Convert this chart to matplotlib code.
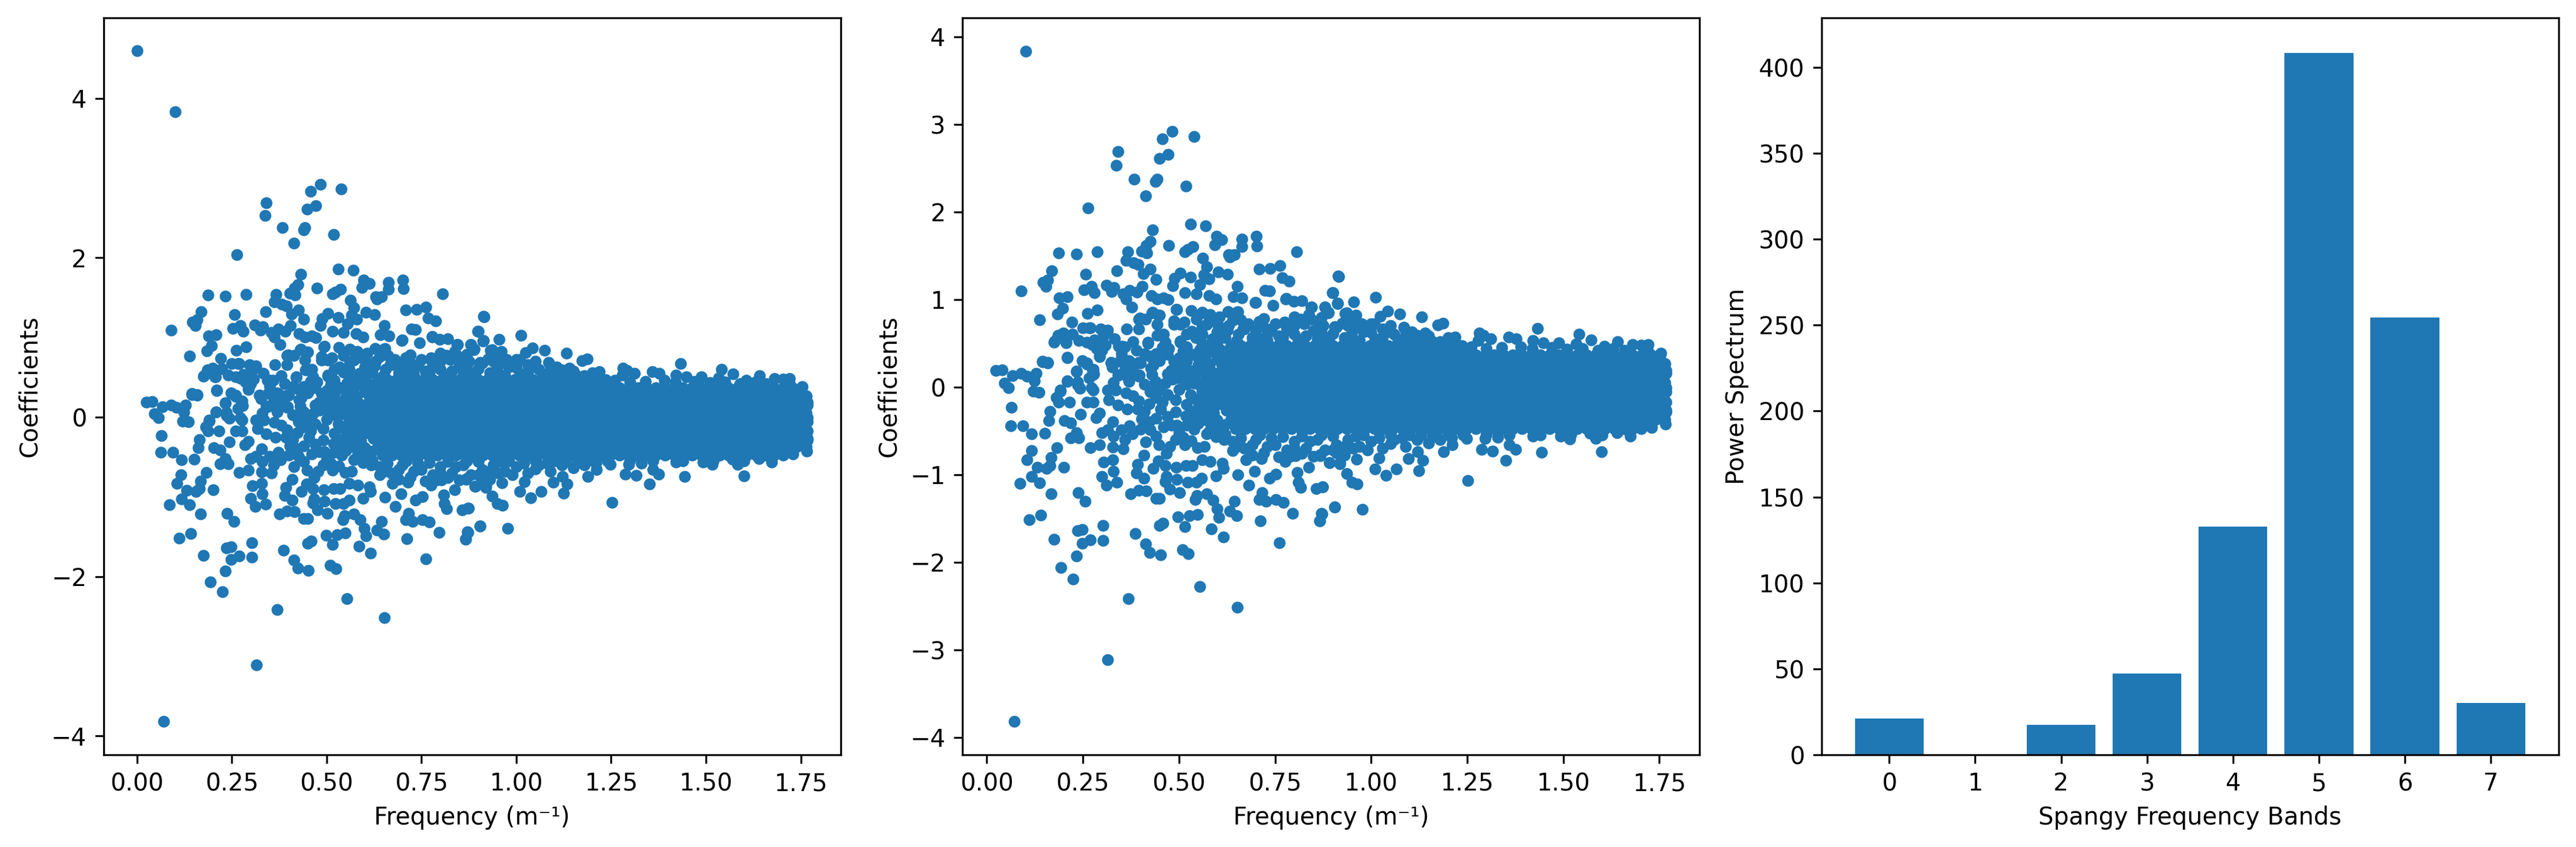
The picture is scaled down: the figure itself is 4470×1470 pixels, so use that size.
import matplotlib
matplotlib.use('Agg')
import matplotlib.pyplot as plt

# 첫번째 점 (주파수 0), 왼쪽 그래프에만 있음
dc_point = (0.0, 4.596)

# (frequency, coefficient) 값들, 그림에서 읽음
upper_far = [(.101,3.83),(.483,2.918),(.457,2.832),(.539,2.861),(.341,2.69),(.337,2.529),(.472,2.652),(.449,2.609),
    (.443,2.375),(.439,2.346),(.384,2.375),(.518,2.29),(.413,2.18),(.263,2.04),(.530,1.858),(.570,1.84),(.432,1.79),
    (.598,1.718),(.612,1.678),(.593,1.623),(.663,1.69),(.663,1.604),(.701,1.718),(.703,1.612),(.425,1.66),(.415,1.618),
    (.474,1.618),(.187,1.532),(.233,1.517),(.288,1.543),(.367,1.543),(.403,1.552),(.416,1.532),(.515,1.546),(.523,1.569),
    (.537,1.603),(.806,1.546),(.562,1.469),(.630,1.512),(.644,1.512),(.633,1.483),(.362,1.446),(.382,1.417),(.394,1.397)]

upper_mid = [(.169,1.323),(.257,1.289),(.339,1.323),(.426,1.346),(.408,1.295),(.44,1.226),(.572,1.374),(.565,1.283),
    (.579,1.232),(.603,1.312),(.627,1.289),(.708,1.346),(.737,1.355),(.762,1.383),(.768,1.246),(.787,1.209),(.915,1.26),
    (.504,1.303),(.488,1.238),(.530,1.252),(.158,1.218),(.146,1.192),(.154,1.146),(.09,1.094),(.272,1.146),(.253,1.112),
    (.280,1.075),(.311,1.16),(.331,1.132),(.325,1.089),(.355,1.06),(.372,1.103),(.391,1.08),(.404,1.146),(.484,1.152),
    (.516,1.075),(.555,1.169),(.545,1.06),(.652,1.146),(.723,1.103),(.735,1.097),(.9,1.075),(.209,1.032),(.189,1.017),
    (.362,1.003),(.428,1.046),(.443,1.003),(.46,1.017),(.472,.997),(.578,1.046),(.596,1.003),(.642,1.032),(.664,1.017),
    (.779,1.009),(.798,.975),(.82,.983),(.844,.912),(.88,.912),(.913,.96),(.7,.966),(.197,.897),(.184,.832),(.288,.88),
    (.262,.84),(.377,.909),(.493,.883),(.745,.932),(.628,.86),(.138,.766),(.221,.74),(.364,.66),(.396,.774),(.43,.846),
    (.45,.817),(.532,.874),(.562,.846),(.654,.86)]

upper_near = [(.25,.674),(.267,.674),(.301,.646),(.314,.646),(.199,.617),(.443,.717),(.487,.717),(.572,.717),(.627,.646),
    (.667,.66),(.728,.66),(.776,.717),(.817,.774),(.864,.717),(.905,.688),(.844,.774),(.708,.746),(.606,.803),(.579,.746),
    (.545,.774),(.504,.717),(.94,.7),(.97,.68),(1.0,.72),(1.05,.7),(1.1,.6),(.27,.673),(.199,.604),(.186,.59),(.223,.604),
    (.177,.521),(.207,.507),(.24,.529),(.26,.507),(.296,.659),(.313,.632),(.303,.576),(.28,.535),(.308,.479),(.286,.438),
    (.293,.349),(.333,.548),(.343,.465),(.359,.46),(.395,.659),(.42,.507),(.444,.59),(.464,.507),(.504,.526),(.534,.632),
    (.544,.562),(.587,.548),(.594,.396),(.624,.396),(.21,.34),(.145,.294),(.159,.28),(.248,.3),(.26,.258),(.276,.189),
    (.233,.183),(.279,.147),(.266,.105),(.323,.272),(.327,.23),(.347,.3),(.37,.3),(.4,.272),(.424,.355),(.44,.382),
    (.474,.438),(.511,.41),(.554,.424),(.537,.369),(.564,.3),(.533,.18),(.427,.216),(.48,.189),(.494,.23),(.484,.092),
    (.439,.064),(.343,.133),(.37,.064),(.397,.133),(.33,.05),(.209,.064),(.236,.022),(.272,-.011),(.191,-.033),(.426,-.047),
    (.551,.036),(.567,.161),(.399,.784),(.414,.776),(.432,.853),(.447,.82),(.487,.756),(.494,.886),(.561,.853),(.581,.825),
    (.628,.859),(.651,.853),(.698,.964),(.778,1.005),(.845,.914),(.889,.853),(.932,.84),(.815,.77),(.838,.825),(.775,.742),
    (.715,.742),(.661,.77),(.601,.715),(.561,.687),(.514,.742)]

upper_band = [(.6,.63),(.63,.7),(.655,.6),(.68,.72),(.7,.64),(.73,.6),(.75,.72),(.78,.65),(.8,.6),(.825,.72),(.85,.64),(.875,.7),
    (.9,.61),(.925,.73),(.95,.63),(.975,.72),(1.0,.62),(1.03,.66),(1.06,.6),(1.09,.64),(1.12,.59),(1.15,.58),(1.2,.56),(.64,.76),
    (.72,.78),(.8,.8),(.87,.79),(.95,.76),(.69,.56),(.77,.56),(.86,.55),(.93,.56),(1.01,.55),(1.08,.54),(1.16,.52),(1.22,.5),
    (.62,.56),(.67,.66),(.71,.55),(.74,.66),(.76,.58),(.8,.7),(.83,.58),(.87,.62),(.89,.54),(.91,.68),(.95,.55),(.98,.63),(1.03,.57),
    (1.05,.63),(1.07,.53),(1.11,.56),(1.13,.51),(1.18,.52),(.65,.53),(.73,.53),(.81,.53),(.97,.53),(1.26,.46),(1.3,.44),(1.34,.45),
    (1.39,.46),(1.42,.44),(1.47,.45),(1.51,.43),(1.55,.44),(1.59,.42),(1.63,.44),(1.66,.42),(1.72,.42)]

right_top = [(.914,1.264),(.899,1.076),(.912,.951),(.954,.973),(1.012,1.026),(.88,.912),(.888,.849),(.936,.849),(.96,.821),
    (1.043,.868),(1.075,.835),(1.024,.807),(1.132,.802),(1.187,.73),(1.174,.705),(1.009,.724),(1.085,.683),(1.106,.627),
    (1.14,.614),(1.219,.572),(1.281,.614),(1.292,.586),(1.311,.55),(1.279,.531),(1.358,.572),(1.377,.55),(1.433,.669),
    (1.421,.531),(1.448,.503),(1.488,.503),(1.541,.6),(1.572,.539),(1.533,.489),(1.642,.517),(1.607,.461),(1.681,.483),
    (1.703,.475),(1.721,.483),(1.754,.384),(1.764,.268),(1.768,.185),(1.768,-.009),(1.768,-.175),(1.768,-.286),(1.766,-.424)]

right_bottom = [(1.730,-.465),(1.703,-.479),(1.674,-.562),(1.601,-.549),(1.584,-.59),(1.6,-.737),(1.517,-.596),(1.493,-.562),
    (1.444,-.748),(1.421,-.562),(1.376,-.715),(1.351,-.839),(1.36,-.659),(1.316,-.734),(1.287,-.715),(1.33,-.576),(1.296,-.59),
    (1.248,-.59),(1.252,-1.069),(1.211,-.659),(1.189,-.742),(1.124,-.955),(1.134,-.839),(1.121,-.742),(1.097,-.817),
    (1.065,-.936),(1.038,-1.01),(1.01,-.936),(1.021,-.811),(.977,-1.398),(.905,-1.37),(.871,-1.442),(.866,-1.531),
    (.873,-1.143),(.963,-1.108),(.95,-1.088),(.937,-.991),(.919,-.88),(.892,-.867),(.962,-.825),(.953,-.701),(.909,-.756),(.868,-.784),
    (1.3,-.54),(1.36,-.55),(1.44,-.55),(1.52,-.54),(1.57,-.53),(1.64,-.52),(1.67,-.5)]

lower_band = [(.64,-.62),(.67,-.7),(.7,-.6),(.72,-.75),(.75,-.66),(.78,-.72),(.8,-.62),(.83,-.7),(.86,-.6),(.88,-.72),(.91,-.66),(.94,-.6),
    (.97,-.68),(1.0,-.62),(1.03,-.7),(1.06,-.6),(1.09,-.68),(1.12,-.6),(1.15,-.64),(1.18,-.6),(1.21,-.58),(.66,-.58),(.74,-.58),(.82,-.56),
    (.9,-.56),(.98,-.55),(1.05,-.55),(1.13,-.55),(1.24,-.55),(.69,-.78),(.76,-.8),(.85,-.79),
    (.62,-.54),(.65,-.68),(.69,-.66),(.71,-.55),(.73,-.68),(.77,-.57),(.8,-.7),(.84,-.62),(.87,-.55),(.9,-.72),(.93,-.68),(.96,-.56),
    (.99,-.72),(1.02,-.58),(1.05,-.65),(1.08,-.58),(1.1,-.55),(1.16,-.57),(1.2,-.54),(.79,-.79),(.93,-.78),(.82,-.76)]

lower_left = [(.024,.19),(.04,.193),(.067,.13),(.09,.152),(.104,.121),(.128,.152),(.124,.068),(.046,.043),(.056,-.011),
    (.121,-.052),(.136,-.061),(.064,-.233),(.062,-.443),(.094,-.443),(.117,-.538),(.151,-.528),(.145,.284),(.158,.271),
    (.21,.331),(.175,.513),(.206,.503),(.25,.293),(.26,.271),(.233,.174),(.277,.2),(.277,.143),(.209,.068),(.236,.058),
    (.243,-.014),(.277,-.036),(.191,-.052),(.181,-.12),(.187,-.177),(.216,-.177),(.26,-.177),(.277,-.177),(.165,-.28),
    (.162,-.384),(.202,-.384),(.219,-.412),(.244,-.309),(.294,-.302),(.284,-.349),(.233,-.522),(.219,-.585),(.24,-.585),
    (.183,-.694),(.116,-.726),(.168,-.804),(.105,-.835),(.164,-.898),(.131,-.92),(.156,-.93),(.201,-.914),(.117,-1.024),
    (.138,-1.096),(.086,-1.102),(.168,-1.218),(.238,-1.209),(.256,-1.306),(.141,-1.463),(.111,-1.516),(.175,-1.739),
    (.236,-1.641),(.248,-1.626),(.302,-1.579),(.27,-1.745),(.248,-1.783),(.303,-1.754),(.233,-1.933),(.193,-2.065),
    (.225,-2.193),(.369,-2.416),(.554,-2.281),(.652,-2.519),(.315,-3.112),(.071,-3.821)]

lower_mid = [(.386,-1.673),(.413,-1.792),(.424,-1.892),(.452,-1.92),(.45,-1.582),(.459,-1.557),(.51,-1.855),(.525,-1.905),
    (.516,-1.597),(.498,-1.485),(.527,-1.472),(.549,-1.456),(.604,-1.488),(.599,-1.394),(.585,-1.623),(.616,-1.71),(.632,-1.416),
    (.65,-1.469),(.645,-1.306),(.712,-1.528),(.761,-1.776),(.796,-1.444),(.866,-1.528),(.872,-1.447),(.905,-1.368),(.857,-1.162),
    (.874,-1.143),(.817,-1.149),(.81,-1.086),(.808,-.977),(.837,-.914),(.771,-1.318),(.752,-1.284),(.727,-1.306),(.708,-1.287),
    (.716,-1.205),(.681,-1.124),(.654,-1.002),(.696,-.961),(.735,-1.039),(.752,-.999),(.589,-1.29),(.572,-1.218),(.547,-1.237),
    (.543,-1.284),(.45,-1.274),(.44,-1.274),(.415,-1.187),(.396,-1.18),(.375,-1.218),(.339,-1.09),(.312,-1.121),(.299,-1.021),
    (.33,-.961),(.304,-.861),(.328,-.835),(.27,-.694),(.293,-.663),(.328,-.685),(.355,-.704),(.299,-.522),(.314,-.491),(.35,-.491),
    (.379,-.538),(.413,-.625),(.409,-.779),(.392,-.883),(.389,-.983),(.409,-1.039),(.433,-.93),(.447,-.842),(.464,-.898),
    (.467,-1.024),(.464,-1.08),(.476,-1.165),(.502,-1.205),(.494,-1.055),(.523,-1.086),(.545,-1.086),(.559,-1.039),(.493,-.914),
    (.518,-.898),(.535,-.898),(.56,-.835),(.582,-.851),(.596,-1.017),(.616,-.93),(.613,-.873),(.467,-.757),(.477,-.679),(.491,-.6),
    (.511,-.578),(.532,-.616),(.515,-.663),(.549,-.694),(.566,-.679),(.448,-.663),(.481,-.437),(.494,-.437),(.596,-.569),(.618,-.6),
    (.572,-.538),(.64,-.726),(.674,-.835),(.715,-.82),(.776,-.851),(.803,-.788),(.868,-.773),(.891,-.867),(.919,-.867)]

inner_left = [(.348,.293),(.372,.293),(.324,.278),(.396,.278),(.433,.246),(.341,.137),(.369,.09),(.396,.121),(.439,.058),(.464,.043),
    (.481,.09),(.426,-.058),(.396,-.161),(.362,-.067),(.335,-.036),(.314,-.036),(.318,-.146),(.341,-.208),(.365,-.255),(.392,-.255),
    (.423,-.193),(.457,-.177),(.453,-.255),(.491,-.146),(.491,-.287),(.403,-.365),(.423,-.396),(.426,-.491),(.372,-.443),(.328,-.396),
    (.487,.293),(.511,.388),(.457,.45),(.42,.497),(.532,.184),(.552,.027),(.545,-.302),(.579,-.396),(.518,-.334),(.535,-.365),
    (.559,-.177),(.504,.513),(.294,.356),(.274,.482),(.352,.466),(.287,.497),
    (.36,.2),(.41,.38),(.45,.3),(.47,.15),(.5,.33),(.52,.46),(.39,.42),(.35,.38),(.3,.42),(.38,.52),(.46,.6),(.52,.6),(.56,.5),
    (.38,-.1),(.44,-.12),(.47,-.34),(.44,-.36),(.5,-.52),(.54,-.48),(.36,-.6),(.33,-.56),(.44,-.56),(.4,-.48),
    (.5,.1),(.52,.03),(.54,.12),(.56,.2),(.58,.26),(.5,-.03),(.53,-.09),(.56,-.05),(.58,.07),(.59,-.12),(.52,-.2),(.55,-.24),(.58,-.22),
    (.59,.16),(.57,.36),(.52,.29),(.55,.33),(.59,.44),(.55,-.42),(.59,-.3),(.6,-.45),(.58,-.5),(.6,.5),(.47,.37),(.43,.14),(.41,.03),
    (.45,-.03),(.47,-.09),(.41,-.28),(.46,-.46),(.52,-.44),(.38,.19),
    (.57,.12),(.55,.25),(.6,.32),(.575,.44),(.54,.04),(.575,-.02),(.545,-.14),(.575,-.14),(.57,-.3),(.6,-.38),(.565,-.37),(.53,-.28),
    (.51,.2),(.52,.12),(.59,.03),(.6,-.2),(.61,-.55),(.6,.6),(.56,.6),(.62,-.43),(.61,.42)]

# 가운데 빽빽한 부분, 줄마다 계수값 하나
core_y = [.47, .365, .26, .155, .05, -.055, -.16, -.265, -.37, -.475]
core_x_0 = [.636,.66,.684,.708,.732,.756,.78,.804,.828,.852,.876,.9,.924,.948,.972,.996,1.02,1.044,1.068,1.092,1.116,1.14,1.164,1.188,1.212,1.236]
core_x_1 = [.6,.624,.648,.672,.696,.72,.744,.768,.792,.816,.84,.864,.888,.912,.936,.96,.984,1.008,1.032,1.056,1.08,1.104,1.128,1.152,1.176,1.2,1.224,1.248,1.272,1.296,1.32,1.344,1.368,1.392,1.416,1.44,1.464,1.488,1.512,1.536,1.56,1.584,1.608,1.632,1.656,1.68,1.704,1.728,1.752]
core_x_2 = [.612,.636,.66,.684,.708,.732,.756,.78,.804,.828,.852,.876,.9,.924,.948,.972,.996,1.02,1.044,1.068,1.092,1.116,1.14,1.164,1.188,1.212,1.236,1.26,1.284,1.308,1.332,1.356,1.38,1.404,1.428,1.452,1.476,1.5,1.524,1.548,1.572,1.596,1.62,1.644,1.668,1.692,1.716,1.74,1.764]
core_x_3 = [.6,.624,.648,.672,.696,.72,.744,.768,.792,.816,.84,.864,.888,.912,.936,.96,.984,1.008,1.032,1.056,1.08,1.104,1.128,1.152,1.176,1.2,1.224,1.248,1.272,1.296,1.32,1.344,1.368,1.392,1.416,1.44,1.464,1.488,1.512,1.536,1.56,1.584,1.608,1.632,1.656,1.68,1.704,1.728,1.752,1.767]
core_x_4 = [.588,.612,.636,.66,.684,.708,.732,.756,.78,.804,.828,.852,.876,.9,.924,.948,.972,.996,1.02,1.044,1.068,1.092,1.116,1.14,1.164,1.188,1.212,1.236,1.26,1.284,1.308,1.332,1.356,1.38,1.404,1.428,1.452,1.476,1.5,1.524,1.548,1.572,1.596,1.62,1.644,1.668,1.692,1.716,1.74,1.764]
core_x_5 = [.6,.624,.648,.672,.696,.72,.744,.768,.792,.816,.84,.864,.888,.912,.936,.96,.984,1.008,1.032,1.056,1.08,1.104,1.128,1.152,1.176,1.2,1.224,1.248,1.272,1.296,1.32,1.344,1.368,1.392,1.416,1.44,1.464,1.488,1.512,1.536,1.56,1.584,1.608,1.632,1.656,1.68,1.704,1.728,1.752,1.767]
core_x_6 = [.612,.636,.66,.684,.708,.732,.756,.78,.804,.828,.852,.876,.9,.924,.948,.972,.996,1.02,1.044,1.068,1.092,1.116,1.14,1.164,1.188,1.212,1.236,1.26,1.284,1.308,1.332,1.356,1.38,1.404,1.428,1.452,1.476,1.5,1.524,1.548,1.572,1.596,1.62,1.644,1.668,1.692,1.716,1.74,1.764]
core_x_7 = [.624,.648,.672,.696,.72,.744,.768,.792,.816,.84,.864,.888,.912,.936,.96,.984,1.008,1.032,1.056,1.08,1.104,1.128,1.152,1.176,1.2,1.224,1.248,1.272,1.296,1.32,1.344,1.368,1.392,1.416,1.44,1.464,1.488,1.512,1.536,1.56,1.584,1.608,1.632,1.656,1.68,1.704,1.728,1.752,1.767]
core_x_8 = [.636,.66,.684,.708,.732,.756,.78,.804,.828,.852,.876,.9,.924,.948,.972,.996,1.02,1.044,1.068,1.092,1.116,1.14,1.164,1.188,1.212,1.236,1.26,1.284,1.308,1.332,1.356,1.38,1.404,1.428,1.452,1.476,1.5,1.524,1.548,1.572,1.596,1.62,1.644,1.668,1.692,1.716,1.74,1.764]
core_x_9 = [.648,.672,.696,.72,.744,.768,.792,.816,.84,.864,.888,.912,.936,.96,.984,1.008,1.032,1.056,1.08,1.104,1.128,1.152,1.176,1.2,1.224,1.248,1.272,1.296,1.32,1.344,1.368,1.392,1.416,1.44,1.464,1.488,1.512,1.536,1.56,1.584,1.608,1.632,1.656,1.68]
core_x = [core_x_0, core_x_1, core_x_2, core_x_3, core_x_4, core_x_5, core_x_6, core_x_7, core_x_8, core_x_9]

# 오른쪽 막대그래프
band_labels = [0, 1, 2, 3, 4, 5, 6, 7]
band_power = [21.1, 0.3, 17.5, 47.4, 132.8, 408.3, 254.5, 30.2]

points = (upper_far + upper_mid + upper_near + upper_band + right_top + right_bottom
          + lower_band + lower_left + lower_mid + inner_left)
for y, xs in zip(core_y, core_x):
    for x in xs:
        points.append((x, y))

freq = [p[0] for p in points]
coef = [p[1] for p in points]

fig, axes = plt.subplots(1, 3, figsize=(14.9, 4.9))
fig.subplots_adjust(left=0.04016, right=0.99329, bottom=0.10884, top=0.97891, wspace=0.1650)

ax = axes[0]
ax.scatter([dc_point[0]] + freq, [dc_point[1]] + coef, s=24.2, linewidths=0)
ax.set_xlim(-0.0885, 1.8555)
ax.set_ylim(-4.237, 5.01)
ax.set_xlabel('Frequency (m⁻¹)')
ax.set_ylabel('Coefficients')

ax = axes[1]
ax.scatter(freq, coef, s=24.2, linewidths=0)
ax.set_xlim(-0.0634, 1.855)
ax.set_ylim(-4.2, 4.214)
ax.set_xlabel('Frequency (m⁻¹)')
ax.set_ylabel('Coefficients')

ax = axes[2]
ax.bar(band_labels, band_power)
ax.set_xticks(band_labels)
ax.set_xlabel('Spangy Frequency Bands')
ax.set_ylabel('Power Spectrum')

fig.savefig('out.png', dpi=300)
